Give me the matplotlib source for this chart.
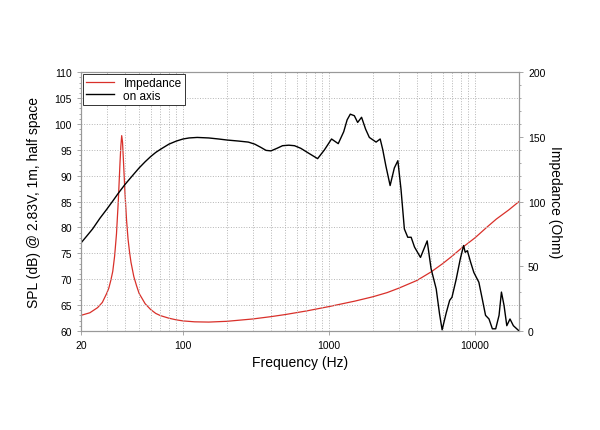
import numpy as np
import matplotlib
matplotlib.use("Agg")
import matplotlib.pyplot as plt
from matplotlib.ticker import FixedLocator, MultipleLocator, NullFormatter

plt.rcParams['font.family'] = ['Liberation Sans', 'DejaVu Sans']

# SPL on axis (dB)
spl_freq = [20, 22, 24, 27, 30, 33, 36, 40, 45, 50, 55, 60, 65, 70, 80, 90,
            100, 110, 125, 150, 175, 200, 240, 280, 310, 340, 370, 400, 440,
            480, 530, 580, 640, 730, 835, 930, 1040, 1156, 1260, 1330, 1398,
            1490, 1570, 1670, 1780, 1888, 2100, 2240, 2330, 2450, 2620, 2800,
            2960, 3110, 3280, 3460, 3650, 3850, 4230, 4700, 5000, 5420, 5710,
            5950, 6350, 6700, 6950, 7430, 7920, 8350, 8560, 8860, 9320, 9810,
            10620, 11200, 11800, 12460, 13140, 13850, 14600, 15160, 15800,
            16500, 17350, 18300, 19300, 20000]
spl_db = [77.0, 78.4, 79.7, 81.8, 83.5, 85.1, 86.6, 88.3, 90.0, 91.5, 92.7,
          93.7, 94.5, 95.1, 96.1, 96.7, 97.1, 97.3, 97.4, 97.3, 97.1, 96.9,
          96.7, 96.5, 96.1, 95.5, 94.9, 94.8, 95.3, 95.8, 95.9, 95.8, 95.3,
          94.3, 93.3, 95.0, 97.1, 96.2, 98.5, 100.8, 101.9, 101.6, 100.3,
          101.3, 99.0, 97.4, 96.5, 97.1, 95.1, 91.9, 88.1, 91.5, 92.9, 87.4,
          79.7, 78.1, 78.1, 76.2, 74.2, 77.4, 72.0, 68.1, 63.3, 60.2, 63.5,
          65.9, 66.5, 70.0, 73.9, 76.5, 75.2, 75.5, 73.3, 71.3, 69.4, 66.2,
          63.0, 62.3, 60.4, 60.4, 63.0, 67.5, 64.9, 61.0, 62.3, 61.0, 60.4,
          60.0]

# Impedance (Ohm)
imp_freq = [20, 23, 26, 28, 30, 31, 32, 33, 34, 35, 36, 37, 37.5, 38, 38.5,
            39, 40, 41, 42, 43, 44, 46, 48, 50, 55, 60, 65, 70, 80, 90, 100,
            120, 150, 200, 300, 400, 500, 700, 1000, 1500, 2000, 2500, 3000,
            4000, 5000, 6000, 7000, 8000, 9000, 10000, 12000, 14000, 17000,
            20000]
imp_ohm = [12, 14, 18, 22, 29, 33, 39, 46, 58, 75, 100, 130, 143, 151, 146,
           133, 107, 86, 71, 61, 53, 42, 35, 29, 21, 16.5, 13.5, 11.8, 9.8,
           8.5, 7.7, 7.0, 6.8, 7.4, 9.2, 11, 12.6, 15.4, 18.8, 23, 26.4, 29.6,
           33, 39, 45.6, 52, 58, 63.6, 68, 72, 80, 86.5, 93.5, 100]

fig = plt.figure(figsize=(6.0, 4.31), dpi=100)
ax = fig.add_axes([0.135, 0.23, 0.73, 0.6])
ax2 = ax.twinx()

l_imp, = ax2.plot(imp_freq, imp_ohm, color='#d9302a', lw=0.9, label='Impedance')
l_spl, = ax.plot(spl_freq, spl_db, color='black', lw=1.0, label='on axis')

ax.set_xscale('log')
ax.set_xlim(20, 20000)
ax.set_ylim(60, 110)
ax2.set_ylim(0, 200)

ax.set_xticks([20, 100, 1000, 10000])
ax.set_xticklabels(['20', '100', '1000', '10000'])
minors = [m * 10 ** e for e in range(1, 5) for m in range(2, 10)]
ax.xaxis.set_minor_locator(FixedLocator([v for v in minors if 20 < v < 20000]))
ax.xaxis.set_minor_formatter(NullFormatter())
ax.yaxis.set_major_locator(MultipleLocator(5))
ax.yaxis.set_minor_locator(MultipleLocator(1))
ax2.yaxis.set_major_locator(MultipleLocator(50))
ax2.yaxis.set_minor_locator(MultipleLocator(10))

ax.grid(True, which='major', axis='both', color='#b5b5b5', ls=':', lw=0.7)
ax.grid(True, which='minor', axis='x', color='#b5b5b5', ls=':', lw=0.7)

for a in (ax, ax2):
    for s in a.spines.values():
        s.set_color('#999999')
        s.set_linewidth(0.8)
    a.tick_params(which='both', colors='#999999', labelcolor='black', labelsize=7.5, width=0.6)
    a.tick_params(which='major', length=3)
    a.tick_params(which='minor', length=1.5)
ax.tick_params(axis='x', which='minor', length=0)

ax.set_xlabel('Frequency (Hz)', fontsize=10)
ax.set_ylabel('SPL (dB) @ 2.83V, 1m, half space', fontsize=10, labelpad=10)
ax2.set_ylabel('Impedance (Ohm)', fontsize=10, rotation=270, labelpad=12)

leg = ax.legend([l_imp, l_spl], ['Impedance', 'on axis'], loc='upper left',
                fontsize=8.5, fancybox=False, framealpha=1, borderaxespad=0.15,
                handlelength=2.4, handletextpad=0.8, labelspacing=0.05,
                borderpad=0.25)
leg.get_frame().set_edgecolor('#333333')
leg.get_frame().set_linewidth(0.7)
ax.set_zorder(ax2.get_zorder() + 1)
ax.patch.set_visible(False)

fig.savefig('out.png', dpi=100)
